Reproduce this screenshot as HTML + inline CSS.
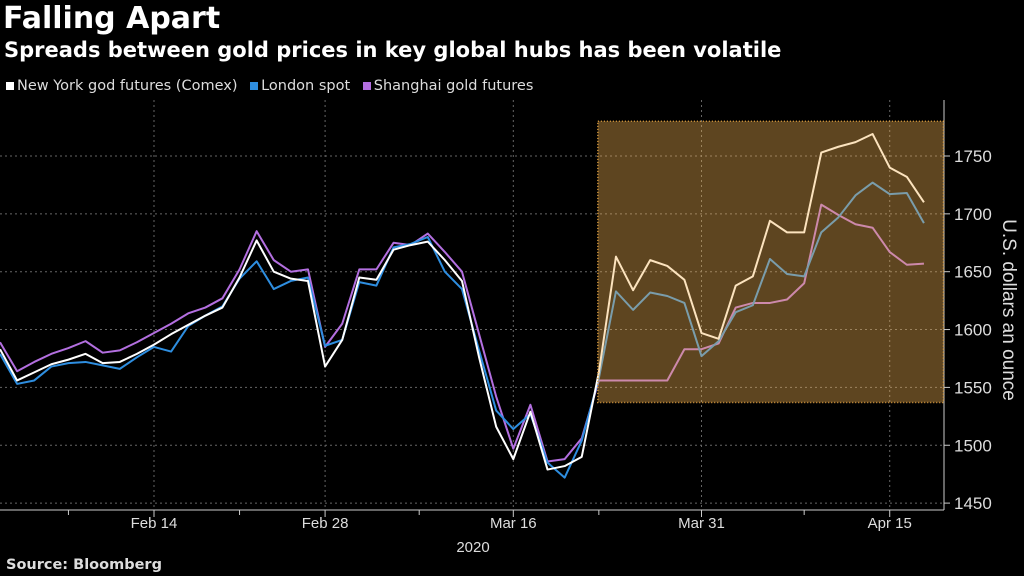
<!DOCTYPE html>
<html><head><meta charset="utf-8"><style>
body{margin:0;background:#000;width:1024px;height:576px;overflow:hidden;font-family:"Liberation Sans",sans-serif;color:#fff}
.t{position:absolute;white-space:nowrap}
</style></head><body>
<div class="t" style="left:3px;top:1px;font-size:30px;font-weight:bold;font-family:'DejaVu Sans',sans-serif;">Falling Apart</div>
<div class="t" style="left:4px;top:38px;font-size:21px;font-weight:bold;font-family:'DejaVu Sans',sans-serif;">Spreads between gold prices in key global hubs has been volatile</div>
<div class="t" style="left:6px;top:78px;font-size:14.5px;color:#ddd;font-family:'DejaVu Sans',sans-serif;">
<span><span style="display:inline-block;width:8px;height:8px;background:#fff;margin-right:3px"></span>New York god futures (Comex)</span>
<span style="margin-left:8px"><span style="display:inline-block;width:8px;height:8px;background:#2e8ee0;margin-right:3px"></span>London spot</span>
<span style="margin-left:8px"><span style="display:inline-block;width:8px;height:8px;background:#b36fe0;margin-right:3px"></span>Shanghai gold futures</span>
</div>
<div class="t" style="left:6px;top:557px;font-size:14.5px;font-weight:bold;color:#ddd;font-family:'DejaVu Sans',sans-serif;">Source: Bloomberg</div>
<svg id="c" width="1024" height="576" style="position:absolute;left:0;top:0"></svg>
<script>
const newYork=[1583,1556,1563,1570,1574,1579,1571,1572,1579,1587,1596,1604,1612,1619,1645,1677,1650,1644,1642,1568,1591,1645,1643,1669,1673,1676,1660,1642,1576,1516,1488,1529,1479,1482,1490,1563,1663,1634,1660,1655,1643,1597,1592,1638,1646,1694,1684,1684,1753,1758,1762,1769,1740,1732,1710];
const london=[1579,1553,1556,1568,1571,1572,1569,1566,1576,1585,1581,1603,1612,1620,1644,1659,1635,1642,1645,1586,1591,1641,1638,1671,1674,1680,1650,1635,1582,1530,1514,1527,1485,1472,1504,1558,1633,1617,1632,1629,1623,1577,1590,1615,1621,1661,1648,1646,1684,1697,1716,1727,1717,1718,1692];
const shanghai=[1589,1564,1572,1579,1584,1590,1580,1582,1589,1597,1605,1614,1619,1627,1652,1685,1660,1650,1652,1585,1605,1652,1652,1675,1673,1683,1667,1650,1596,1542,1497,1535,1486,1488,1506,1556,1556,1556,1556,1556,1583,1583,1588,1619,1623,1623,1626,1640,1708,1699,1691,1688,1667,1656,1657];
const xTickLabels=["Feb 14","Feb 28","Mar 16","Mar 31","Apr 15"];
const xTickIdx=[9,19,30,41,52];
const minorTickIdx=[4,14,24.5,35,47];
const yTicks=[1450,1500,1550,1600,1650,1700,1750];
const highlight=[35,55.2,1537,1780];
const NS="http://www.w3.org/2000/svg";
const svg=document.getElementById('c');
const xs=i=>i*17.11;
const ys=v=>156+(1750-v)*1.157;
function mk(t,a){const e=document.createElementNS(NS,t);for(const k in a)e.setAttribute(k,a[k]);svg.appendChild(e);return e;}
yTicks.forEach(v=>{
  const g=mk('line',{x1:0,x2:944,y1:ys(v),y2:ys(v),stroke:'#666','stroke-dasharray':'2,3','stroke-width':1});
  
  
  mk('line',{x1:944,x2:950,y1:ys(v),y2:ys(v),stroke:'#ccc'});
  const t=mk('text',{x:954,y:ys(v)+6,fill:'#ddd','font-size':17,'font-family':'Liberation Sans, sans-serif'});
  t.textContent=v;
  
  
});
xTickIdx.forEach((i,k)=>{
  const g=mk('line',{x1:xs(i),x2:xs(i),y1:100,y2:510,stroke:'#666','stroke-dasharray':'2,3'});
  
  
  mk('line',{x1:xs(i),x2:xs(i),y1:510,y2:517,stroke:'#ccc'});
  const t=mk('text',{x:xs(i),y:528,fill:'#ddd','font-size':15,'text-anchor':'middle','font-family':'Liberation Sans, sans-serif'});
  t.textContent=xTickLabels[k];
  
  
});
minorTickIdx.forEach(i=>mk('line',{x1:xs(i),x2:xs(i),y1:510,y2:515,stroke:'#ccc'}));
const yr=mk('text',{x:473,y:552,fill:'#ddd','font-size':15,'text-anchor':'middle','font-family':'Liberation Sans, sans-serif'});
yr.textContent='2020';


const ax=mk('line',{x1:0,x2:944,y1:510,y2:510,stroke:'#ccc'});


const ay=mk('line',{x1:944,x2:944,y1:100,y2:510,stroke:'#ccc'});


const at=mk('text',{transform:'translate(1003,310) rotate(90)',fill:'#ddd','font-size':19,'text-anchor':'middle','font-family':'Liberation Sans, sans-serif'});
at.textContent='U.S. dollars an ounce';


[[shanghai,'#b36fe0','shanghai-line'],[london,'#2e8ee0','london-line'],[newYork,'#ffffff','new-york-line']].forEach(([d,c,n])=>{
  const p=mk('polyline',{points:d.map((v,i)=>xs(i)+','+ys(v)).join(' '),fill:'none',stroke:c,'stroke-width':2,'stroke-linejoin':'round'});
  
  
});
const box=mk('rect',{x:xs(highlight[0])-1,y:ys(highlight[3]),width:xs(highlight[1])-xs(highlight[0]),height:ys(highlight[2])-ys(highlight[3]),fill:'rgba(247,181,84,0.38)',stroke:'#e0a040','stroke-dasharray':'1,2','stroke-width':1.5});


</script>
</body></html>
